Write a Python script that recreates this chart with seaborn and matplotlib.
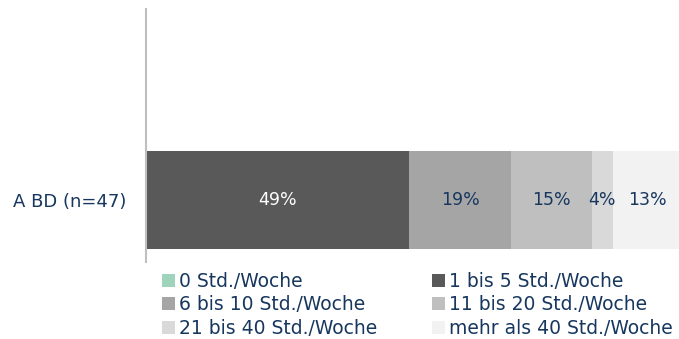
import numpy as np
import pandas as pd
import matplotlib
matplotlib.use("Agg")
import matplotlib.pyplot as plt
from matplotlib.patches import Patch
import seaborn as sns

# Hours per week distribution for one group
group = "A BD (n=47)"
categories = ["0 Std./Woche", "1 bis 5 Std./Woche", "6 bis 10 Std./Woche",
              "11 bis 20 Std./Woche", "21 bis 40 Std./Woche", "mehr als 40 Std./Woche"]
shares = [0, 49, 19, 15, 4, 13]
colors = ["#a0d3bc", "#595959", "#a5a5a5", "#bfbfbf", "#d9d9d9", "#f2f2f2"]
label_colors = ["#17375e", "#ffffff", "#17375e", "#17375e", "#17375e", "#17375e"]

text_color = "#17375e"

sns.set_theme(style="white")
plt.rcParams["font.family"] = ["DejaVu Sans"]

W, H = 679, 339
fig = plt.figure(figsize=(W / 100, H / 100), dpi=100)
ax = fig.add_axes([146 / W, 1 - 262 / H, 1 - 146 / W, 253 / H])

cum = np.cumsum(shares)
df = pd.DataFrame({"group": [group] * len(shares), "cat": categories,
                   "share": shares, "cum": cum})

# stacked bar: draw cumulative totals from the widest down
for i in reversed(range(len(categories))):
    sns.barplot(data=df.iloc[[i]], x="cum", y="group", color=colors[i],
                orient="h", width=0.77, linewidth=0, saturation=1, ax=ax)

for i, (v, c) in enumerate(zip(shares, cum)):
    if v > 0:
        ax.text(c - v / 2, 0, f"{v}%", ha="center", va="center",
                fontsize=12.5, color=label_colors[i])

ax.set_xlim(0, 99.3)
ax.set_ylim(0.49, -1.51)
ax.set_xlabel("")
ax.set_ylabel("")
ax.set_xticks([])
ax.tick_params(axis="y", length=0, pad=14, labelsize=13, labelcolor=text_color)
for s in ["top", "right", "bottom"]:
    ax.spines[s].set_visible(False)
ax.spines["left"].set_color("#bfbfbf")
ax.spines["left"].set_linewidth(1.5)

# legend: two columns, filled row by row
legend_kw = dict(loc="upper left", frameon=False, fontsize=13.5,
                 labelcolor=text_color, handlelength=0.69, handleheight=0.69,
                 handletextpad=0.2, labelspacing=0.24, borderpad=0,
                 borderaxespad=0)
for col, x0 in ((0, 162), (1, 432)):
    idx = list(range(col, len(categories), 2))
    handles = [Patch(facecolor=colors[i], edgecolor="none") for i in idx]
    labels = [categories[i] for i in idx]
    fig.legend(handles, labels, bbox_to_anchor=(x0 / W, 1 - 272 / H),
               **legend_kw)

fig.savefig("out.png", dpi=100)
